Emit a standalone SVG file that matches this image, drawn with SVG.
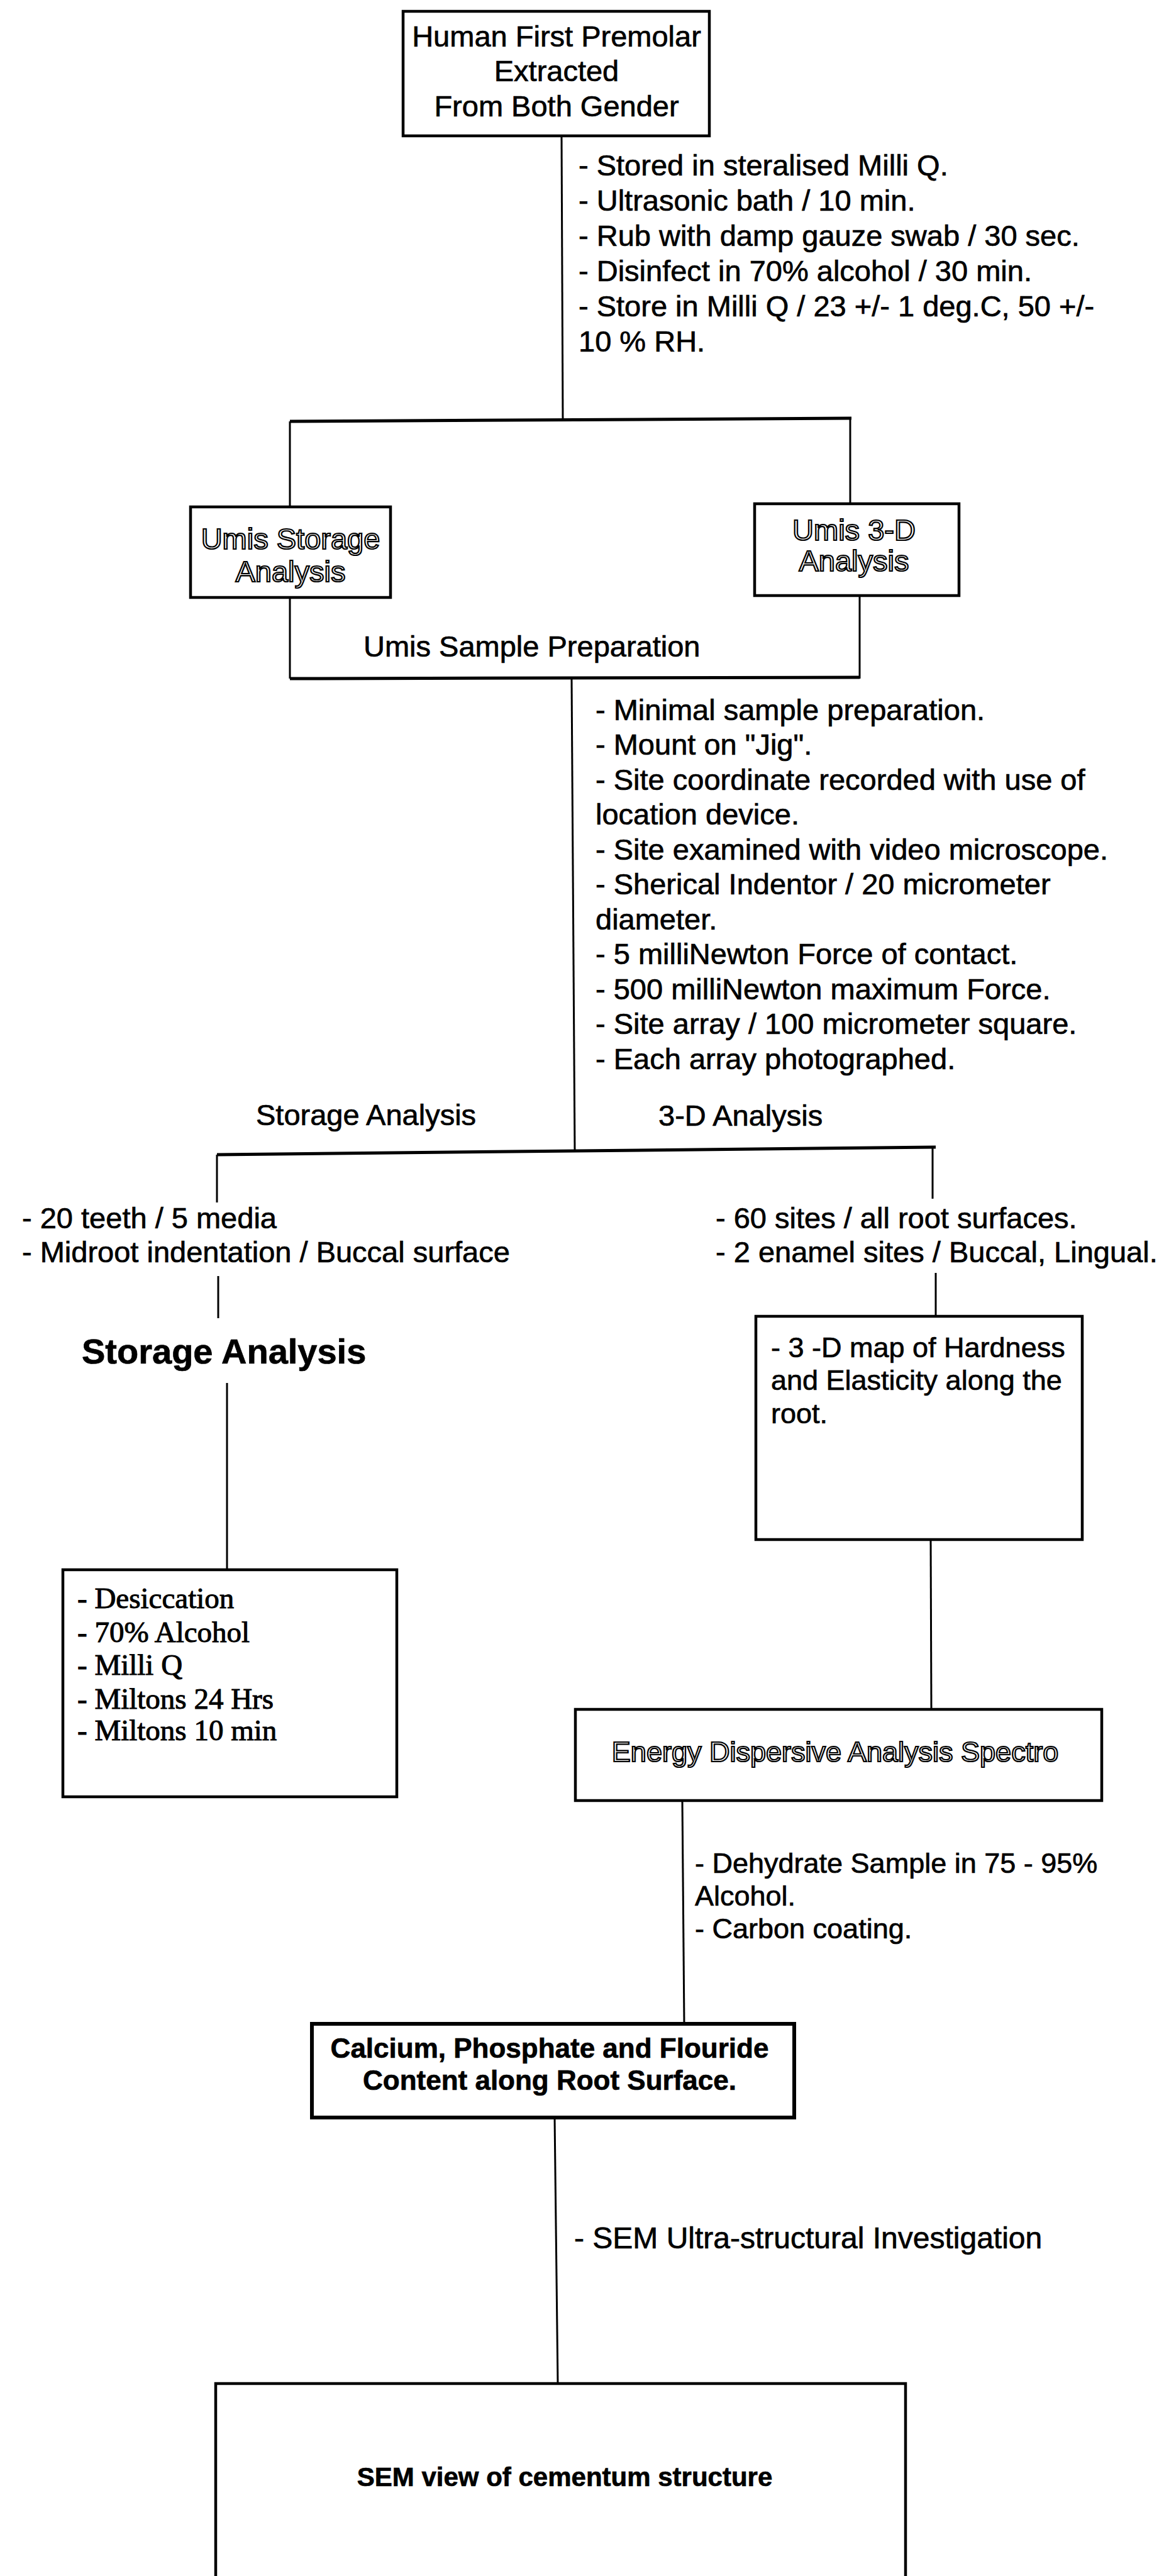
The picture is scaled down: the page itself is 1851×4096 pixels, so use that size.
<svg xmlns="http://www.w3.org/2000/svg" width="1851" height="4096" viewBox="0 0 1851 4096">
<style>
.t{font-family:"Liberation Sans",Arial,sans-serif;font-size:47px;fill:#000;stroke:#000;stroke-width:0.7}
.s45{font-size:45px}
.c{text-anchor:middle}
.o{fill:none;stroke:#000;stroke-width:2.2}
.b{font-weight:bold}
.serif{font-family:"Liberation Serif","Times New Roman",serif;stroke-width:1}
.box{fill:#fff;stroke:#000;stroke-width:4.5}
.ln{stroke:#000;stroke-width:3;fill:none}
.thick{stroke-width:5}
</style>
<rect width="1851" height="4096" fill="#fff"/>
<g id="connectors">
<line class="ln" x1="893" y1="216" x2="895" y2="668"/>
<line class="ln thick" x1="461" y1="670" x2="1354" y2="665"/>
<line class="ln" x1="461" y1="670" x2="461" y2="806"/>
<line class="ln" x1="1352" y1="665" x2="1352" y2="801"/>
<line class="ln" x1="461" y1="950" x2="461" y2="1079"/>
<line class="ln" x1="1367" y1="947" x2="1367" y2="1079"/>
<line class="ln thick" x1="461" y1="1079" x2="1367" y2="1077"/>
<line class="ln" x1="909" y1="1079" x2="914" y2="1830"/>
<line class="ln thick" x1="345" y1="1836" x2="1488" y2="1824"/>
<line class="ln" x1="345" y1="1836" x2="345" y2="1912"/>
<line class="ln" x1="1483" y1="1826" x2="1483" y2="1906"/>
<line class="ln" x1="347" y1="2029" x2="347" y2="2096"/>
<line class="ln" x1="361" y1="2199" x2="361" y2="2496"/>
<line class="ln" x1="1488" y1="2024" x2="1488" y2="2093"/>
<line class="ln" x1="1480" y1="2448" x2="1481" y2="2718"/>
<line class="ln" x1="1085" y1="2863" x2="1088" y2="3218"/>
<line class="ln" x1="882" y1="3367" x2="887" y2="3790"/>
</g>
<g id="n-start">
<rect class="box" x="641" y="18" width="487" height="198"/>
<text class="t c" x="885" y="74">Human First Premolar</text>
<text class="t c" x="885" y="129">Extracted</text>
<text class="t c" x="885" y="185">From Both Gender</text>
</g>
<g id="l-prep1">
<text class="t" x="920" y="279">- Stored in steralised Milli Q.</text>
<text class="t" x="920" y="335">- Ultrasonic bath / 10 min.</text>
<text class="t" x="920" y="391">- Rub with damp gauze swab / 30 sec.</text>
<text class="t" x="920" y="447">- Disinfect in 70% alcohol / 30 min.</text>
<text class="t" x="920" y="503">- Store in Milli Q / 23 +/- 1 deg.C, 50 +/-</text>
<text class="t" x="920" y="559">10 % RH.</text>
</g>
<g id="n-umis-storage">
<rect class="box" x="303" y="806" width="318" height="144"/>
<text class="t c o" x="462" y="873">Umis Storage</text>
<text class="t c o" x="462" y="925">Analysis</text>
</g>
<g id="n-umis-3d">
<rect class="box" x="1200" y="801" width="325" height="146"/>
<text class="t c o" x="1358" y="859">Umis 3-D</text>
<text class="t c o" x="1358" y="908">Analysis</text>
</g>
<g id="l-umis-prep">
<text class="t" x="578" y="1044">Umis Sample Preparation</text>
</g>
<g id="l-prep2">
<text class="t" x="947" y="1145">- Minimal sample preparation.</text>
<text class="t" x="947" y="1200">- Mount on "Jig".</text>
<text class="t" x="947" y="1256">- Site coordinate recorded with use of</text>
<text class="t" x="947" y="1311">location device.</text>
<text class="t" x="947" y="1367">- Site examined with video microscope.</text>
<text class="t" x="947" y="1422">- Sherical Indentor / 20  micrometer</text>
<text class="t" x="947" y="1478">diameter.</text>
<text class="t" x="947" y="1533">- 5 milliNewton Force of contact.</text>
<text class="t" x="947" y="1589">- 500 milliNewton maximum Force.</text>
<text class="t" x="947" y="1644">- Site array / 100 micrometer square.</text>
<text class="t" x="947" y="1700">- Each array photographed.</text>
</g>
<g id="l-branches">
<text class="t" x="407" y="1789">Storage Analysis</text>
<text class="t" x="1047" y="1790">3-D Analysis</text>
</g>
<g id="l-storage-list">
<text class="t" x="35" y="1953">- 20 teeth / 5 media</text>
<text class="t" x="35" y="2007">- Midroot indentation / Buccal surface</text>
</g>
<g id="l-3d-list">
<text class="t" x="1138" y="1953">- 60 sites / all root surfaces.</text>
<text class="t" x="1138" y="2007">- 2 enamel sites / Buccal, Lingual.</text>
</g>
<g id="n-storage-heading">
<text class="t b" x="130" y="2168" style="font-size:56px">Storage Analysis</text>
</g>
<g id="n-3d-map">
<rect class="box" x="1202" y="2093" width="519" height="355"/>
<text class="t s45" x="1226" y="2158">- 3 -D map of Hardness</text>
<text class="t s45" x="1226" y="2210">and Elasticity along the</text>
<text class="t s45" x="1226" y="2263">root.</text>
</g>
<g id="n-media">
<rect class="box" x="100" y="2496" width="531" height="361"/>
<text class="t serif" x="123" y="2557">- Desiccation</text>
<text class="t serif" x="123" y="2611">- 70% Alcohol</text>
<text class="t serif" x="123" y="2663">- Milli Q</text>
<text class="t serif" x="123" y="2717">- Miltons 24 Hrs</text>
<text class="t serif" x="123" y="2767">- Miltons 10 min</text>
</g>
<g id="n-energy">
<rect class="box" x="915" y="2718" width="837" height="145"/>
<text class="t c o s45" x="1328" y="2801">Energy Dispersive Analysis Spectro</text>
</g>
<g id="l-dehydrate">
<text class="t s45" x="1105" y="2978">- Dehydrate Sample in 75 - 95%</text>
<text class="t s45" x="1105" y="3030">Alcohol.</text>
<text class="t s45" x="1105" y="3082">- Carbon coating.</text>
</g>
<g id="n-calcium">
<rect class="box" x="496" y="3218" width="767" height="149" style="stroke-width:6"/>
<text class="t b c" x="874" y="3272" style="font-size:44px">Calcium, Phosphate and Flouride</text>
<text class="t b c" x="874" y="3323" style="font-size:44px">Content along Root Surface.</text>
</g>
<g id="l-sem">
<text class="t" x="913" y="3575" style="font-size:48px">- SEM Ultra-structural Investigation</text>
</g>
<g id="n-sem">
<rect class="box" x="343" y="3790" width="1097" height="340"/>
<text class="t b c" x="898" y="3953" style="font-size:42px">SEM view of cementum structure</text>
</g>
</svg>
